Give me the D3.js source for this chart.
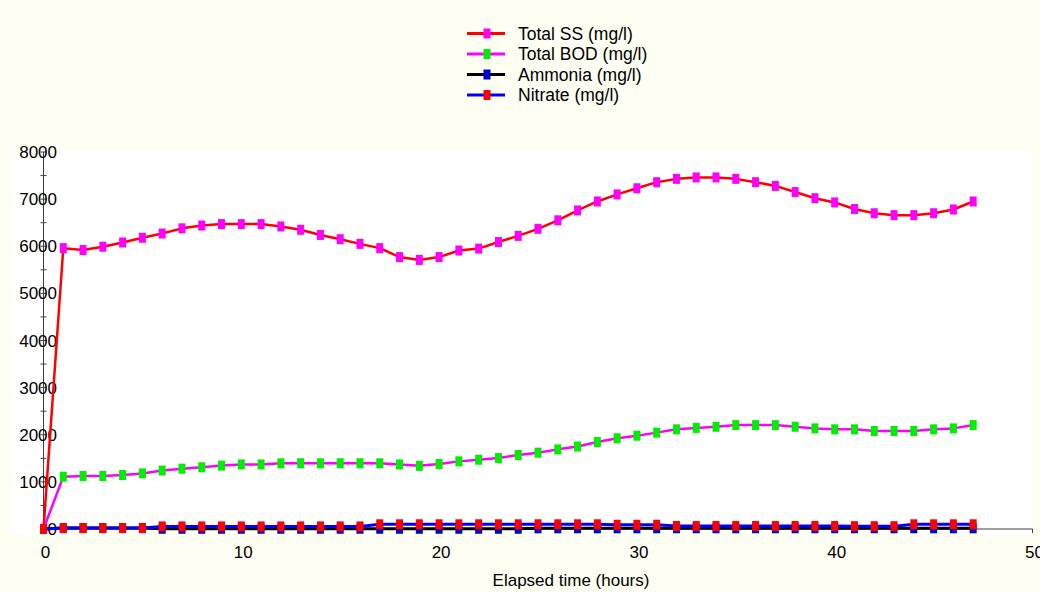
<!DOCTYPE html>
<html>
<head>
<meta charset="utf-8">
<script src="https://cdn.jsdelivr.net/npm/d3@7"></script>
<style>
  body { margin: 0; background: #fefef3; }
  text { font-family: "Liberation Sans", Arial, sans-serif; font-size: 16px; fill: #000; }
</style>
</head>
<body>
<div id="chart"></div>
<script>
var hours = [0, 1, 2, 3, 4, 5, 6, 7, 8, 9, 10, 11, 12, 13, 14, 15, 16, 17, 18, 19, 20, 21, 22, 23,
    24, 25, 26, 27, 28, 29, 30, 31, 32, 33, 34, 35, 36, 37, 38, 39, 40, 41, 42, 43, 44, 45, 46, 47];

var totalSS = [0, 5960, 5920, 5990, 6080, 6180, 6270, 6380, 6440, 6470, 6470, 6470, 6420, 6350, 6240, 6150,
    6050, 5960, 5770, 5710, 5770, 5910, 5950, 6090, 6220, 6370, 6550, 6760, 6950, 7100, 7230, 7360,
    7430, 7460, 7460, 7430, 7360, 7280, 7150, 7020, 6930, 6790, 6700, 6660, 6660, 6700, 6780, 6950];

var totalBOD = [0, 1110, 1125, 1125, 1145, 1180, 1240, 1280, 1310, 1345, 1370, 1370, 1395, 1395, 1395, 1395,
    1395, 1395, 1370, 1340, 1380, 1435, 1470, 1505, 1570, 1620, 1690, 1750, 1845, 1925, 1980, 2045,
    2115, 2145, 2170, 2205, 2205, 2205, 2170, 2135, 2115, 2115, 2080, 2080, 2080, 2115, 2135, 2205];

var ammonia = [0, 20, 20, 20, 20, 20, 5, 5, 5, 5, 5, 5, 5, 5, 5, 5,
    5, 5, 5, 5, 5, 5, 5, 5, 5, 15, 15, 15, 15, 15, 15, 15,
    15, 15, 15, 15, 15, 15, 15, 15, 15, 15, 15, 15, 15, 15, 15, 15];

var nitrate = [0, 20, 20, 20, 20, 20, 55, 55, 55, 55, 55, 55, 55, 55, 55, 55,
    55, 100, 100, 100, 100, 100, 100, 100, 100, 100, 100, 100, 100, 90, 90, 90,
    65, 65, 65, 65, 65, 65, 65, 65, 65, 60, 60, 60, 100, 100, 100, 100];

var xTicks = [0, 10, 20, 30, 40, 50];
var yTicks = [0, 1000, 2000, 3000, 4000, 5000, 6000, 7000, 8000];
var yMinorTicks = [500, 1500, 2500, 3500, 4500, 5500, 6500, 7500];

var series = [
    {name: "Total SS (mg/l)", values: totalSS, line: "#ff0000", marker: "#ff00ff", width: 2.5},
    {name: "Total BOD (mg/l)", values: totalBOD, line: "#ff00ff", marker: "#00ee00", width: 2.5},
    {name: "Ammonia (mg/l)", values: ammonia, line: "#000000", marker: "#0000c8", width: 3},
    {name: "Nitrate (mg/l)", values: nitrate, line: "#0000ff", marker: "#ff0000", width: 3}
];

var width = 1040, height = 592;

var svg = d3.select("#chart").append("svg")
    .attr("width", width)
    .attr("height", height);

// white plot panel
svg.append("rect")
    .attr("x", 10).attr("y", 150)
    .attr("width", 1022).attr("height", 384)
    .attr("fill", "#ffffff");

var x = d3.scaleLinear().domain([0, 50]).range([43.5, 1032.5]);
var y = d3.scaleLinear().domain([0, 8000]).range([529, 152]);

var axisColor = "#404040";
var fontSize = "17px";

// y axis
svg.append("line")
    .attr("x1", x(0)).attr("x2", x(0))
    .attr("y1", y(8000)).attr("y2", y(0))
    .attr("stroke", axisColor).attr("stroke-width", 1);

svg.append("g").selectAll("line")
    .data(yMinorTicks.concat(yTicks))
    .enter().append("line")
    .attr("x1", x(0) - 3).attr("x2", x(0) + 3)
    .attr("y1", function (d) { return y(d); })
    .attr("y2", function (d) { return y(d); })
    .attr("stroke", axisColor);

svg.append("g").selectAll("text")
    .data(yTicks)
    .enter().append("text")
    .attr("x", 57)
    .attr("y", function (d) { return y(d) + 6; })
    .attr("text-anchor", "end")
    .style("font-size", fontSize)
    .text(String);

// x axis
svg.append("line")
    .attr("x1", x(0)).attr("x2", x(50))
    .attr("y1", y(0)).attr("y2", y(0))
    .attr("stroke", axisColor).attr("stroke-width", 1);

svg.append("g").selectAll("line")
    .data(xTicks)
    .enter().append("line")
    .attr("x1", function (d) { return x(d); })
    .attr("x2", function (d) { return x(d); })
    .attr("y1", y(0)).attr("y2", y(0) + 4)
    .attr("stroke", axisColor);

svg.append("g").selectAll("text")
    .data(xTicks)
    .enter().append("text")
    .attr("x", function (d) { return x(d) + 2; })
    .attr("y", 558)
    .attr("text-anchor", "middle")
    .style("font-size", fontSize)
    .text(String);

svg.append("text")
    .attr("x", 571).attr("y", 586)
    .attr("text-anchor", "middle")
    .style("font-size", fontSize)
    .text("Elapsed time (hours)");

// series
var line = d3.line()
    .x(function (d, i) { return x(hours[i]); })
    .y(function (d) { return y(d); });

var mw = 7, mh = 10;

series.forEach(function (s) {
    var g = svg.append("g");
    g.append("path")
        .attr("d", line(s.values))
        .attr("fill", "none")
        .attr("stroke", s.line)
        .attr("stroke-width", s.width)
        .attr("stroke-linejoin", "round");
    g.selectAll("rect")
        .data(s.values)
        .enter().append("rect")
        .attr("x", function (d, i) { return x(hours[i]) - mw / 2; })
        .attr("y", function (d) { return y(d) - mh / 2; })
        .attr("width", mw).attr("height", mh)
        .attr("fill", s.marker);
});

// legend
var legend = svg.append("g").selectAll("g")
    .data(series)
    .enter().append("g")
    .attr("transform", function (d, i) { return "translate(0," + (33.5 + i * 20.5) + ")"; });

legend.append("line")
    .attr("x1", 467).attr("x2", 505)
    .attr("stroke", function (d) { return d.line; })
    .attr("stroke-width", 3);

legend.append("rect")
    .attr("x", 487 - mw / 2).attr("y", -mh / 2)
    .attr("width", mw).attr("height", mh)
    .attr("fill", function (d) { return d.marker; });

legend.append("text")
    .attr("x", 518).attr("y", 6)
    .style("font-size", "17.5px")
    .text(function (d) { return d.name; });
</script>
</body>
</html>
